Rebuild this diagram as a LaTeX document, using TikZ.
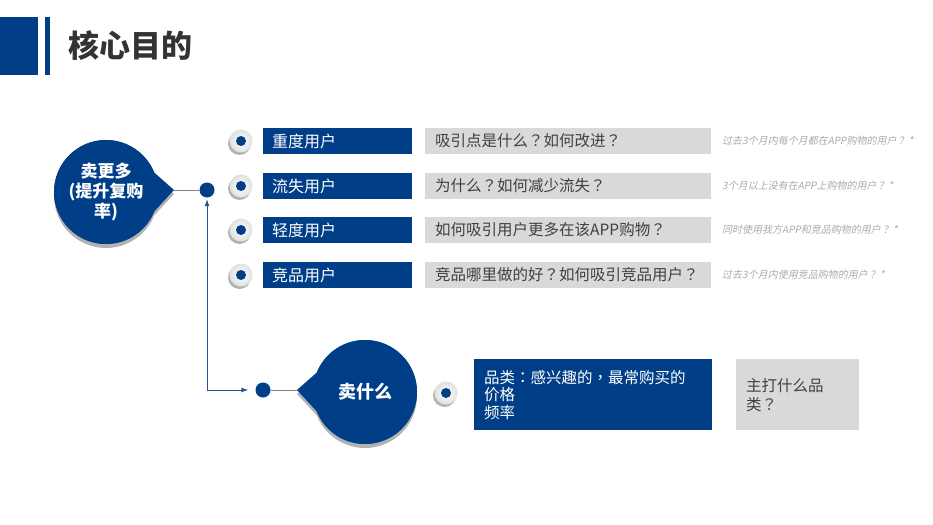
\documentclass[tikz,border=0pt]{standalone}
\usepackage{fontspec}
\setmainfont{Noto Sans CJK SC}
\newfontfamily\notefont[FakeSlant=0.2]{Noto Sans CJK SC}
\newfontfamily\punctfont{Noto Sans CJK TC}
\newcommand{\qm}{{\punctfont ？}}
\newcommand{\cln}{{\punctfont ：}}
\newcommand{\cma}{{\punctfont ，}}
\usetikzlibrary{shadows,arrows.meta,calc}
\definecolor{mainblue}{RGB}{0,63,135}
\definecolor{boxgrey}{RGB}{217,217,217}
\definecolor{titlegrey}{RGB}{51,51,51}
\definecolor{textgrey}{RGB}{64,64,64}
\definecolor{notegrey}{RGB}{170,170,170}
\definecolor{linkblue}{RGB}{40,80,150}
\definecolor{linegrey}{RGB}{128,128,128}
\begin{document}
\begin{tikzpicture}[x=1pt,y=-1pt,
  bluebox/.style={fill=mainblue,text=white,anchor=west,minimum height=26pt,inner ysep=0pt,inner xsep=9pt,text width=131pt,align=left,font=\fontsize{16}{19}\selectfont},
  greybox/.style={fill=boxgrey,text=textgrey,anchor=west,minimum height=26pt,inner ysep=0pt,inner xsep=10pt,text width=266pt,align=left,font=\fontsize{15.5}{19}\selectfont},
  note/.style={anchor=west,text=notegrey,inner sep=0pt,font=\notefont\fontsize{10}{12}\selectfont},
  button/.style={circle,minimum size=23pt,inner sep=0pt,inner color=white,outer color=black!12,
    drop shadow={shadow xshift=-1.5pt,shadow yshift=-2.5pt,opacity=0.3,fill=black}},
  bdot/.style={circle,fill=mainblue,minimum size=10pt,inner sep=0pt},
  hubdot/.style={circle,fill=mainblue,minimum size=15pt,inner sep=0pt},
  bigcircle/.style={circle,fill=mainblue,minimum size=104pt,inner sep=0pt,text=white,align=center,font=\bfseries\fontsize{17}{20}\selectfont},
  bubble/.style={fill=mainblue,drop shadow={shadow xshift=0pt,shadow yshift=-4pt,opacity=0.3,fill=black}},
  greyline/.style={draw=linegrey,line width=0.8pt},
  linkarrow/.style={draw=linkblue,line width=0.9pt,{Latex[length=7pt,width=5pt]}-{Latex[length=7pt,width=5pt]}}
]
\useasboundingbox (0,0) rectangle (933,524);
% header
\fill[mainblue] (0,17) rectangle (38,75);
\fill[mainblue] (45,17) rectangle (50,75);
\node[anchor=west,inner sep=0pt,text=titlegrey,font=\bfseries\fontsize{31}{36}\selectfont] (title) at (68,46) {核心目的};

% big bubble 1
\fill[bubble] (106,192) ++(22:52) arc[start angle=22,end angle=338,radius=52] -- (174,190) -- cycle;
\node[bigcircle] (more) at (106,192) {卖更多\\(提升复购\\率)};
\coordinate (moretip) at (174,190);
\node[hubdot] (hub1) at (207,190) {};
\draw[greyline] (moretip) -- (hub1);

% big bubble 2
\fill[bubble] (365,392) ++(202:52) arc[start angle=202,end angle=518,radius=52] -- (297,390) -- cycle;
\node[bigcircle,font=\bfseries\fontsize{18}{21}\selectfont] (what) at (365,392) {卖什么};
\coordinate (whattip) at (297,390);
\node[hubdot] (hub2) at (263,390) {};
\draw[greyline] (hub2) -- (whattip);

% elbow connector
\draw[linkarrow,shorten <=1.5pt,shorten >=7pt] (hub1.south) |- (hub2.west);

% rows
\foreach \y/\nm/\lab/\q/\n in {
  141/a/重度用户/吸引点是什么\qm 如何改进\qm/过去3个月内每个月都在APP购物的用户 ？*,
  186/b/流失用户/为什么\qm 如何减少流失\qm/3个月以上没有在APP上购物的用户 ？*,
  230/c/轻度用户/如何吸引用户更多在该APP购物\qm/同时使用我方APP和竞品购物的用户 ？*,
  275/d/竞品用户/竞品哪里做的好\qm 如何吸引竞品用户\qm/过去3个月内使用竞品购物的用户 ？*}{
  \node[button] (btn\nm) at (241,\y) {};
  \node[bdot] at (btn\nm) {};
  \node[bluebox] (lab\nm) at (263,\y) {\lab};
  \node[greybox] (q\nm) at (425,\y) {\q};
  \node[note] (n\nm) at (722,\y) {\n};
}

% bottom row
\node[button] (btne) at (446,393) {};
\node[bdot] at (btne) {};
\node[fill=mainblue,text=white,anchor=north west,minimum height=71pt,inner ysep=0pt,inner xsep=10pt,text width=218pt,align=left,font=\fontsize{15.5}{17.5}\selectfont] (cat) at (474,359) {品类\cln 感兴趣的\cma 最常购买的\\价格\\频率};
\node[fill=boxgrey,text=textgrey,anchor=north west,minimum height=71pt,inner ysep=0pt,inner xsep=10pt,text width=103pt,align=left,font=\fontsize{15.5}{19}\selectfont] (main) at (736,359) {主打什么品\\类\qm};
\end{tikzpicture}
\end{document}
